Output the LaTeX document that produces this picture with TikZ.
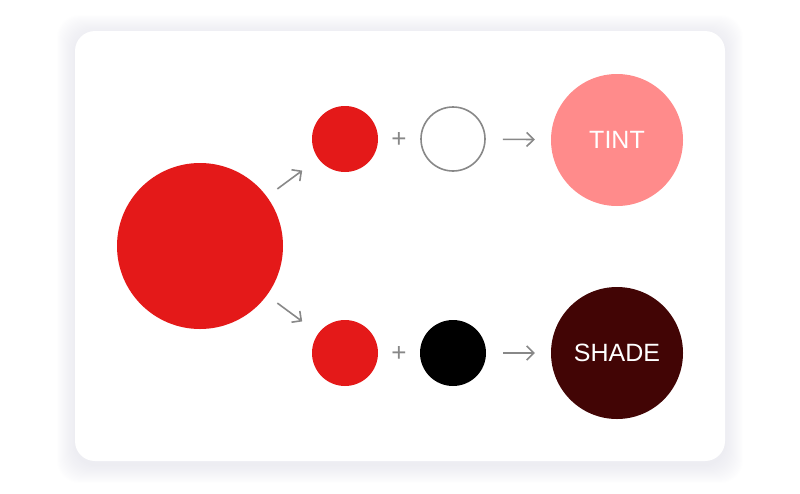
\documentclass[tikz,border=0pt]{standalone}
\usepackage{fontspec}
\setmainfont{Liberation Sans}
\usetikzlibrary{shapes,arrows.meta}
\definecolor{basered}{HTML}{E41919}
\definecolor{tintpink}{HTML}{FF8B8B}
\definecolor{shadebrown}{HTML}{420505}
\definecolor{arrowgray}{HTML}{888888}
\definecolor{shadowblue}{HTML}{D6D6E2}
\tikzstyle{swatch} = [circle, inner sep=0pt, minimum size=66pt]
\tikzstyle{result} = [circle, inner sep=0pt, minimum size=132pt, text=white, font=\fontsize{25}{25}\selectfont]
\tikzstyle{plus} = [text=arrowgray, font=\fontsize{26}{26}\selectfont, inner sep=0pt]
\tikzstyle{arrow} = [draw=arrowgray, line width=1.6pt, -{Straight Barb[length=7pt,width=14pt]}]

\begin{document}
\begin{tikzpicture}[x=1pt, y=-1pt]

\useasboundingbox (0,0) rectangle (800,493);

% card with a soft shadow
\foreach \s in {1,...,18}
  \fill [shadowblue, opacity=0.03, rounded corners=22pt] (75-\s,33-\s) rectangle (725+\s,465+\s);
\fill [white, rounded corners=20pt] (75,31) rectangle (725,461);

\node (source) [circle, fill=basered, minimum size=166pt, inner sep=0pt] at (200,246) {};

\node (tintred) [swatch, fill=basered] at (345,139) {};
\node (tintplus) [plus] at (399,139.5) {+};
\node (white) [swatch, draw=arrowgray, line width=1.6pt, minimum size=64pt] at (453,139) {};
\node (tint) [result, fill=tintpink] at (617,140) {TINT};

\node (shadered) [swatch, fill=basered] at (345,353) {};
\node (shadeplus) [plus] at (399,353.5) {+};
\node (black) [swatch, fill=black] at (453,353) {};
\node (shade) [result, fill=shadebrown] at (617,353) {SHADE};

\draw [arrow, shorten <=13pt, shorten >=20pt] (source) -- (tintred);
\draw [arrow, shorten <=13pt, shorten >=20pt] (source) -- (shadered);
\draw [arrow, shorten <=17pt, shorten >=16pt] (white) -- (tint);
\draw [arrow, shorten <=17pt, shorten >=16pt] (black) -- (shade);

\end{tikzpicture}
\end{document}
